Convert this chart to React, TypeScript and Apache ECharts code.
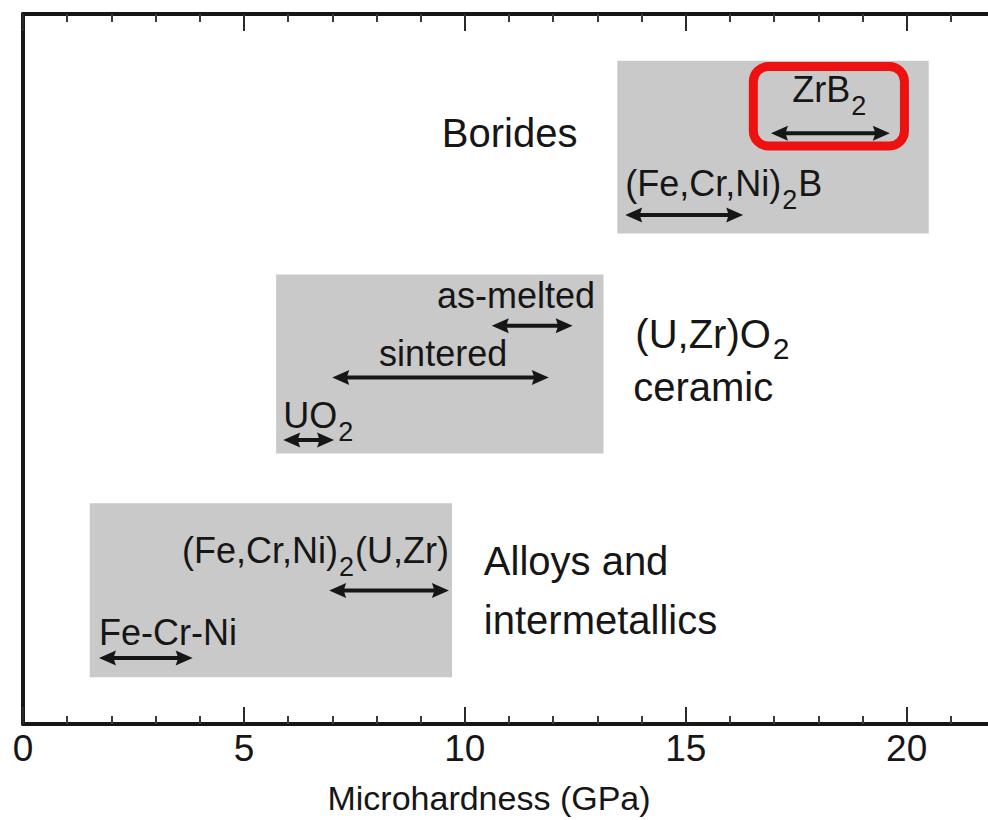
import React, { useEffect, useRef } from "react";
import * as echarts from "echarts";

// ---- data (x in GPa, y on a hidden 0–100 layout scale) ----
const X_MIN = 0;
const X_MAX = 22;
const xTickStep = 5;

const boxNames = ["Borides", "(U,Zr)O2 ceramic", "Alloys and intermetallics"];
const boxX0 = [13.45, 5.73, 1.51];
const boxX1 = [20.5, 13.14, 9.71];
const boxYBottom = [69.1, 38.1, 6.6];
const boxYTop = [93.4, 63.3, 31.1];

const arrowNames = ["ZrB_2", "(Fe,Cr,Ni)_2B", "as-melted", "sintered", "UO_2", "(Fe,Cr,Ni)_2(U,Zr)", "Fe-Cr-Ni"];
const arrowFrom = [16.93, 13.63, 10.61, 7.0, 5.89, 6.93, 1.72];
const arrowTo = [19.62, 16.3, 12.44, 11.9, 7.04, 9.64, 3.84];
const arrowY = [83.2, 71.7, 56.1, 48.8, 40.0, 18.8, 9.3];
const labelX = [18.26, 13.63, 9.37, 8.06, 5.89, 9.64, 1.72];
const labelY = [89.3, 76.1, 60.4, 52.2, 43.5, 24.5, 12.9];
const labelAlign = ["center", "left", "left", "left", "left", "right", "left"];

const groupText = ["Borides", "(U,Zr)O_2", "ceramic", "Alloys and", "intermetallics"];
const groupX = [9.48, 13.86, 13.81, 10.43, 10.43];
const groupY = [83.2, 55.0, 47.4, 23.0, 14.7];

// highlighted range (ZrB2)
const highlightX = [16.53, 19.95];
const highlightY = [81.4, 92.6];

const FONT = "'Liberation Sans', Arial, Helvetica, sans-serif";
const INK = "#161616";

function toRich(s: string): string {
  let out = "{n|" + s.replace(/_(\w)/g, "}{s|$1}{n|") + "}";
  return out.replace(/\{n\|\}/g, "");
}

function richStyles(fs: number, lh: number, subFs: number, subPadTop: number, subPadLeft: number) {
  return {
    n: { fontSize: fs, lineHeight: lh, verticalAlign: "top", fontFamily: FONT, fill: INK },
    s: {
      fontSize: subFs,
      lineHeight: subFs,
      verticalAlign: "top",
      fontFamily: FONT,
      fill: INK,
      padding: [subPadTop, 1, 0, subPadLeft],
    },
  };
}

const PX_PER_UNIT = 44.3;
const GRID_LEFT = 23;

export default function App() {
  const ref = useRef<HTMLDivElement>(null);

  useEffect(() => {
    document.body.style.margin = "0";
    document.body.style.overflow = "hidden";
    document.documentElement.style.overflow = "hidden";
    const chart = echarts.init(ref.current!, undefined, { renderer: "svg" });

    const LABEL_FS = 36;
    const LABEL_LH = 36;
    const GROUP_FS = 40;
    const GROUP_LH = 40;

    const axisCommon = {
      type: "value" as const,
      min: X_MIN,
      max: X_MAX,
      interval: xTickStep,
      splitLine: { show: false },
      axisLine: { show: true, onZero: false, lineStyle: { color: INK, width: 4, cap: "round" } },
      axisTick: { show: true, inside: true, length: 17, lineStyle: { color: "#2a2a2a", width: 2 } },
      minorTick: { show: true, splitNumber: 5, length: 8, lineStyle: { color: "#3a3a3a", width: 2 } },
    };

    const option: any = {
      animation: false,
      grid: { left: GRID_LEFT, top: 14, right: 0, height: 713, containLabel: false },
      xAxis: [
        {
          ...axisCommon,
          position: "bottom",
          axisLabel: {
            show: true,
            margin: 6,
            fontSize: 37,
            color: INK,
            fontFamily: FONT,
            formatter: (v: number) => (v % xTickStep === 0 ? String(v) : ""),
          },
          name: "Microhardness (GPa)",
          nameLocation: "middle",
          nameGap: 57,
          nameTextStyle: { fontSize: 34, color: INK, fontFamily: FONT, padding: [0, 40, 0, 0] },
        },
        {
          ...axisCommon,
          position: "top",
          axisLabel: { show: false },
        },
      ],
      yAxis: {
        type: "value",
        min: 0,
        max: 100,
        axisLine: { show: true, lineStyle: { color: INK, width: 4 } },
        axisTick: { show: false },
        axisLabel: { show: false },
        splitLine: { show: false },
      },
      series: [
        {
          type: "custom",
          name: "ranges",
          z: 1,
          silent: true,
          clip: false,
          data: boxNames.map((_, i) => [boxX0[i], boxX1[i], boxYBottom[i], boxYTop[i]]),
          renderItem: (params: any, api: any) => {
            const a = api.coord([api.value(0), api.value(3)]);
            const b = api.coord([api.value(1), api.value(2)]);
            return {
              type: "rect",
              shape: { x: a[0], y: a[1], width: b[0] - a[0], height: b[1] - a[1] },
              style: { fill: "#c9c9c9" },
            };
          },
        },
        {
          type: "custom",
          name: "highlight",
          z: 3,
          silent: true,
          clip: false,
          data: [[highlightX[0], highlightX[1], highlightY[0], highlightY[1]]],
          renderItem: (params: any, api: any) => {
            const a = api.coord([api.value(0), api.value(3)]);
            const b = api.coord([api.value(1), api.value(2)]);
            return {
              type: "rect",
              shape: { x: a[0], y: a[1], width: b[0] - a[0], height: b[1] - a[1], r: 15 },
              style: { fill: "none", stroke: "#ee1111", lineWidth: 9 },
            };
          },
        },
        {
          type: "custom",
          name: "arrows",
          z: 4,
          silent: true,
          clip: false,
          data: arrowNames.map((_, i) => [arrowFrom[i], arrowTo[i], arrowY[i]]),
          renderItem: (params: any, api: any) => {
            const p0 = api.coord([api.value(0), api.value(2)]);
            const p1 = api.coord([api.value(1), api.value(2)]);
            const L = 17;
            const W = 7.5;
            const y = p0[1];
            return {
              type: "group",
              children: [
                {
                  type: "line",
                  shape: { x1: p0[0] + L * 0.7, y1: y, x2: p1[0] - L * 0.7, y2: y },
                  style: { stroke: INK, lineWidth: 4 },
                },
                {
                  type: "polygon",
                  shape: { points: [[p0[0], y], [p0[0] + L, y - W], [p0[0] + L * 0.85, y], [p0[0] + L, y + W]] },
                  style: { fill: INK },
                },
                {
                  type: "polygon",
                  shape: { points: [[p1[0], y], [p1[0] - L, y - W], [p1[0] - L * 0.85, y], [p1[0] - L, y + W]] },
                  style: { fill: INK },
                },
              ],
            };
          },
        },
        {
          type: "custom",
          name: "arrowLabels",
          z: 5,
          silent: true,
          clip: false,
          data: arrowNames.map((_, i) => [labelX[i], labelY[i]]),
          renderItem: (params: any, api: any) => {
            const i = params.dataIndex;
            const p = api.coord([api.value(0), api.value(1)]);
            return {
              type: "text",
              x: p[0],
              y: p[1] - LABEL_LH / 2,
              style: {
                text: toRich(arrowNames[i]),
                rich: richStyles(LABEL_FS, LABEL_LH, 27, 21, 1),
                align: labelAlign[i],
                verticalAlign: "top",
                fontSize: LABEL_FS,
                fontFamily: FONT,
                fill: INK,
              },
            };
          },
        },
        {
          type: "custom",
          name: "groupLabels",
          z: 5,
          silent: true,
          clip: false,
          data: groupText.map((_, i) => [groupX[i], groupY[i]]),
          renderItem: (params: any, api: any) => {
            const i = params.dataIndex;
            const p = api.coord([api.value(0), api.value(1)]);
            return {
              type: "text",
              x: p[0],
              y: p[1] - GROUP_LH / 2,
              style: {
                text: toRich(groupText[i]),
                rich: richStyles(GROUP_FS, GROUP_LH, 30, 20, 2),
                align: "left",
                verticalAlign: "top",
                fontSize: GROUP_FS,
                fontFamily: FONT,
                fill: INK,
              },
            };
          },
        },
      ],
    };

    chart.setOption(option);
    return () => chart.dispose();
  }, []);

  const totalWidth = Math.round(GRID_LEFT + (X_MAX - X_MIN) * PX_PER_UNIT);
  return (
    <div
      ref={ref}
      style={{ position: "absolute", left: 0, top: 0, width: totalWidth, height: 820, background: "#fff" }}
    />
  );
}
